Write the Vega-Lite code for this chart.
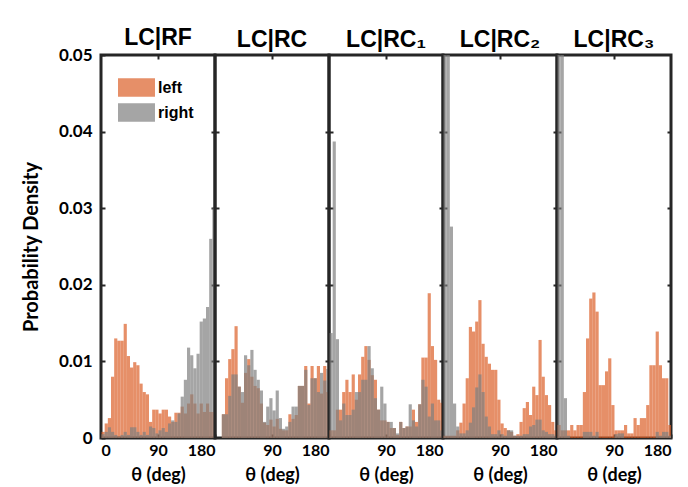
{
  "$schema": "https://vega.github.io/schema/vega-lite/v6.json",
  "padding": {"left": 19, "top": 25, "right": 10, "bottom": 2},
  "bounds": "flush",
  "spacing": 0,
  "datasets": {
    "h": [
      {"p":"RF","s":"left","b":0,"d":0.0008},{"p":"RF","s":"left","b":5,"d":0.0019},{"p":"RF","s":"left","b":10,"d":0.0026},{"p":"RF","s":"left","b":15,"d":0.008},{"p":"RF","s":"left","b":20,"d":0.013},{"p":"RF","s":"left","b":25,"d":0.0127},{"p":"RF","s":"left","b":30,"d":0.0127},{"p":"RF","s":"left","b":35,"d":0.0149},{"p":"RF","s":"left","b":40,"d":0.0107},{"p":"RF","s":"left","b":45,"d":0.0092},{"p":"RF","s":"left","b":50,"d":0.0099},{"p":"RF","s":"left","b":55,"d":0.0095},{"p":"RF","s":"left","b":60,"d":0.0071},{"p":"RF","s":"left","b":65,"d":0.006},{"p":"RF","s":"left","b":70,"d":0.0057},{"p":"RF","s":"left","b":75,"d":0.0021},{"p":"RF","s":"left","b":80,"d":0.0037},{"p":"RF","s":"left","b":85,"d":0.0037},{"p":"RF","s":"left","b":90,"d":0.0032},{"p":"RF","s":"left","b":95,"d":0.0037},{"p":"RF","s":"left","b":100,"d":0.0037},{"p":"RF","s":"left","b":105,"d":0.0028},{"p":"RF","s":"left","b":110,"d":0.0021},{"p":"RF","s":"left","b":115,"d":0.0033},{"p":"RF","s":"left","b":120,"d":0.0033},{"p":"RF","s":"left","b":125,"d":0.0041},{"p":"RF","s":"left","b":130,"d":0.0032},{"p":"RF","s":"left","b":135,"d":0.0045},{"p":"RF","s":"left","b":140,"d":0.0057},{"p":"RF","s":"left","b":145,"d":0.0045},{"p":"RF","s":"left","b":150,"d":0.0032},{"p":"RF","s":"left","b":155,"d":0.0045},{"p":"RF","s":"left","b":160,"d":0.0034},{"p":"RF","s":"left","b":165,"d":0.0045},{"p":"RF","s":"left","b":170,"d":0.0034},{"p":"RF","s":"left","b":175,"d":0.0034},
      {"p":"RF","s":"right","b":0,"d":0.0005},{"p":"RF","s":"right","b":5,"d":0.0008},{"p":"RF","s":"right","b":10,"d":0.0014},{"p":"RF","s":"right","b":15,"d":0.0008},{"p":"RF","s":"right","b":20,"d":0.0004},{"p":"RF","s":"right","b":25,"d":0.0002},{"p":"RF","s":"right","b":30,"d":0.0004},{"p":"RF","s":"right","b":35,"d":0.0008},{"p":"RF","s":"right","b":40,"d":0.0004},{"p":"RF","s":"right","b":45,"d":0.0014},{"p":"RF","s":"right","b":50,"d":0.0014},{"p":"RF","s":"right","b":55,"d":0.0008},{"p":"RF","s":"right","b":60,"d":0.0004},{"p":"RF","s":"right","b":65,"d":0.0008},{"p":"RF","s":"right","b":70,"d":0.0004},{"p":"RF","s":"right","b":75,"d":0.0015},{"p":"RF","s":"right","b":80,"d":0.0013},{"p":"RF","s":"right","b":85,"d":0.0006},{"p":"RF","s":"right","b":90,"d":0.001},{"p":"RF","s":"right","b":95,"d":0.0013},{"p":"RF","s":"right","b":100,"d":0.0008},{"p":"RF","s":"right","b":105,"d":0.0019},{"p":"RF","s":"right","b":110,"d":0.0023},{"p":"RF","s":"right","b":115,"d":0.0021},{"p":"RF","s":"right","b":120,"d":0.0032},{"p":"RF","s":"right","b":125,"d":0.0054},{"p":"RF","s":"right","b":130,"d":0.0076},{"p":"RF","s":"right","b":135,"d":0.0118},{"p":"RF","s":"right","b":140,"d":0.0108},{"p":"RF","s":"right","b":145,"d":0.0091},{"p":"RF","s":"right","b":150,"d":0.011},{"p":"RF","s":"right","b":155,"d":0.0152},{"p":"RF","s":"right","b":160,"d":0.0156},{"p":"RF","s":"right","b":165,"d":0.0171},{"p":"RF","s":"right","b":170,"d":0.026},{"p":"RF","s":"right","b":175,"d":0.03},
      {"p":"RC","s":"left","b":0,"d":0},{"p":"RC","s":"left","b":5,"d":0},{"p":"RC","s":"left","b":10,"d":0.0031},{"p":"RC","s":"left","b":15,"d":0.0078},{"p":"RC","s":"left","b":20,"d":0.0103},{"p":"RC","s":"left","b":25,"d":0.0116},{"p":"RC","s":"left","b":30,"d":0.0146},{"p":"RC","s":"left","b":35,"d":0.0067},{"p":"RC","s":"left","b":40,"d":0.0046},{"p":"RC","s":"left","b":45,"d":0.0085},{"p":"RC","s":"left","b":50,"d":0.0103},{"p":"RC","s":"left","b":55,"d":0.008},{"p":"RC","s":"left","b":60,"d":0.0068},{"p":"RC","s":"left","b":65,"d":0.0065},{"p":"RC","s":"left","b":70,"d":0.0045},{"p":"RC","s":"left","b":75,"d":0.002},{"p":"RC","s":"left","b":80,"d":0.0017},{"p":"RC","s":"left","b":85,"d":0.0024},{"p":"RC","s":"left","b":90,"d":0.0015},{"p":"RC","s":"left","b":95,"d":0.0025},{"p":"RC","s":"left","b":100,"d":0.0012},{"p":"RC","s":"left","b":105,"d":0.001},{"p":"RC","s":"left","b":110,"d":0.001},{"p":"RC","s":"left","b":115,"d":0.0031},{"p":"RC","s":"left","b":120,"d":0.0025},{"p":"RC","s":"left","b":125,"d":0.003},{"p":"RC","s":"left","b":130,"d":0.0068},{"p":"RC","s":"left","b":135,"d":0.0068},{"p":"RC","s":"left","b":140,"d":0.0094},{"p":"RC","s":"left","b":145,"d":0.0045},{"p":"RC","s":"left","b":150,"d":0.0094},{"p":"RC","s":"left","b":155,"d":0.0078},{"p":"RC","s":"left","b":160,"d":0.0094},{"p":"RC","s":"left","b":165,"d":0.0058},{"p":"RC","s":"left","b":170,"d":0.0094},{"p":"RC","s":"left","b":175,"d":0.006},
      {"p":"RC","s":"right","b":0,"d":0},{"p":"RC","s":"right","b":5,"d":0},{"p":"RC","s":"right","b":10,"d":0.0031},{"p":"RC","s":"right","b":15,"d":0.0031},{"p":"RC","s":"right","b":20,"d":0.0055},{"p":"RC","s":"right","b":25,"d":0.0083},{"p":"RC","s":"right","b":30,"d":0.0083},{"p":"RC","s":"right","b":35,"d":0.0067},{"p":"RC","s":"right","b":40,"d":0.006},{"p":"RC","s":"right","b":45,"d":0.0108},{"p":"RC","s":"right","b":50,"d":0.0095},{"p":"RC","s":"right","b":55,"d":0.0115},{"p":"RC","s":"right","b":60,"d":0.0089},{"p":"RC","s":"right","b":65,"d":0.0076},{"p":"RC","s":"right","b":70,"d":0.0062},{"p":"RC","s":"right","b":75,"d":0.0021},{"p":"RC","s":"right","b":80,"d":0.0041},{"p":"RC","s":"right","b":85,"d":0.0052},{"p":"RC","s":"right","b":90,"d":0.0036},{"p":"RC","s":"right","b":95,"d":0.0062},{"p":"RC","s":"right","b":100,"d":0.0026},{"p":"RC","s":"right","b":105,"d":0.0012},{"p":"RC","s":"right","b":110,"d":0.0015},{"p":"RC","s":"right","b":115,"d":0.0021},{"p":"RC","s":"right","b":120,"d":0.0041},{"p":"RC","s":"right","b":125,"d":0.0041},{"p":"RC","s":"right","b":130,"d":0.0068},{"p":"RC","s":"right","b":135,"d":0.0068},{"p":"RC","s":"right","b":140,"d":0.0089},{"p":"RC","s":"right","b":145,"d":0.0043},{"p":"RC","s":"right","b":150,"d":0.0078},{"p":"RC","s":"right","b":155,"d":0.0078},{"p":"RC","s":"right","b":160,"d":0.006},{"p":"RC","s":"right","b":165,"d":0.0085},{"p":"RC","s":"right","b":170,"d":0.0075},{"p":"RC","s":"right","b":175,"d":0.009},
      {"p":"RC1","s":"left","b":0,"d":0.001},{"p":"RC1","s":"left","b":5,"d":0.001},{"p":"RC1","s":"left","b":10,"d":0.0037},{"p":"RC1","s":"left","b":15,"d":0.0037},{"p":"RC1","s":"left","b":20,"d":0.006},{"p":"RC1","s":"left","b":25,"d":0.0076},{"p":"RC1","s":"left","b":30,"d":0.006},{"p":"RC1","s":"left","b":35,"d":0.0083},{"p":"RC1","s":"left","b":40,"d":0.005},{"p":"RC1","s":"left","b":45,"d":0.0083},{"p":"RC1","s":"left","b":50,"d":0.0106},{"p":"RC1","s":"left","b":55,"d":0.012},{"p":"RC1","s":"left","b":60,"d":0.0102},{"p":"RC1","s":"left","b":65,"d":0.0082},{"p":"RC1","s":"left","b":70,"d":0.0076},{"p":"RC1","s":"left","b":75,"d":0.0037},{"p":"RC1","s":"left","b":80,"d":0.0023},{"p":"RC1","s":"left","b":85,"d":0.0023},{"p":"RC1","s":"left","b":90,"d":0.0021},{"p":"RC1","s":"left","b":95,"d":0.0013},{"p":"RC1","s":"left","b":100,"d":0.0013},{"p":"RC1","s":"left","b":105,"d":0.0004},{"p":"RC1","s":"left","b":110,"d":0.0021},{"p":"RC1","s":"left","b":115,"d":0.0013},{"p":"RC1","s":"left","b":120,"d":0.0015},{"p":"RC1","s":"left","b":125,"d":0.0015},{"p":"RC1","s":"left","b":130,"d":0.0037},{"p":"RC1","s":"left","b":135,"d":0.0021},{"p":"RC1","s":"left","b":140,"d":0.0044},{"p":"RC1","s":"left","b":145,"d":0.0105},{"p":"RC1","s":"left","b":150,"d":0.0105},{"p":"RC1","s":"left","b":155,"d":0.0189},{"p":"RC1","s":"left","b":160,"d":0.012},{"p":"RC1","s":"left","b":165,"d":0.0102},{"p":"RC1","s":"left","b":170,"d":0.005},{"p":"RC1","s":"left","b":175,"d":0.0046},
      {"p":"RC1","s":"right","b":0,"d":0.0137},{"p":"RC1","s":"right","b":5,"d":0.0387},{"p":"RC1","s":"right","b":10,"d":0.0129},{"p":"RC1","s":"right","b":15,"d":0.0023},{"p":"RC1","s":"right","b":20,"d":0.0045},{"p":"RC1","s":"right","b":25,"d":0.003},{"p":"RC1","s":"right","b":30,"d":0.003},{"p":"RC1","s":"right","b":35,"d":0.0037},{"p":"RC1","s":"right","b":40,"d":0.006},{"p":"RC1","s":"right","b":45,"d":0.006},{"p":"RC1","s":"right","b":50,"d":0.0076},{"p":"RC1","s":"right","b":55,"d":0.0076},{"p":"RC1","s":"right","b":60,"d":0.012},{"p":"RC1","s":"right","b":65,"d":0.0091},{"p":"RC1","s":"right","b":70,"d":0.0052},{"p":"RC1","s":"right","b":75,"d":0.0037},{"p":"RC1","s":"right","b":80,"d":0.0067},{"p":"RC1","s":"right","b":85,"d":0.0045},{"p":"RC1","s":"right","b":90,"d":0.0021},{"p":"RC1","s":"right","b":95,"d":0.0021},{"p":"RC1","s":"right","b":100,"d":0.0013},{"p":"RC1","s":"right","b":105,"d":0.0006},{"p":"RC1","s":"right","b":110,"d":0.0021},{"p":"RC1","s":"right","b":115,"d":0.0013},{"p":"RC1","s":"right","b":120,"d":0.0015},{"p":"RC1","s":"right","b":125,"d":0.0044},{"p":"RC1","s":"right","b":130,"d":0.0023},{"p":"RC1","s":"right","b":135,"d":0.0015},{"p":"RC1","s":"right","b":140,"d":0.0044},{"p":"RC1","s":"right","b":145,"d":0.0076},{"p":"RC1","s":"right","b":150,"d":0.0067},{"p":"RC1","s":"right","b":155,"d":0.0028},{"p":"RC1","s":"right","b":160,"d":0.0045},{"p":"RC1","s":"right","b":165,"d":0.0023},{"p":"RC1","s":"right","b":170,"d":0.0023},{"p":"RC1","s":"right","b":175,"d":0.001},
      {"p":"RC2","s":"left","b":0,"d":0.0003},{"p":"RC2","s":"left","b":5,"d":0.0003},{"p":"RC2","s":"left","b":10,"d":0.0003},{"p":"RC2","s":"left","b":15,"d":0.0003},{"p":"RC2","s":"left","b":20,"d":0.001},{"p":"RC2","s":"left","b":25,"d":0.002},{"p":"RC2","s":"left","b":30,"d":0.0045},{"p":"RC2","s":"left","b":35,"d":0.0078},{"p":"RC2","s":"left","b":40,"d":0.0145},{"p":"RC2","s":"left","b":45,"d":0.0139},{"p":"RC2","s":"left","b":50,"d":0.0152},{"p":"RC2","s":"left","b":55,"d":0.018},{"p":"RC2","s":"left","b":60,"d":0.0123},{"p":"RC2","s":"left","b":65,"d":0.0106},{"p":"RC2","s":"left","b":70,"d":0.0097},{"p":"RC2","s":"left","b":75,"d":0.0089},{"p":"RC2","s":"left","b":80,"d":0.0089},{"p":"RC2","s":"left","b":85,"d":0.005},{"p":"RC2","s":"left","b":90,"d":0.0019},{"p":"RC2","s":"left","b":95,"d":0.0013},{"p":"RC2","s":"left","b":100,"d":0.001},{"p":"RC2","s":"left","b":105,"d":0.0008},{"p":"RC2","s":"left","b":110,"d":0.0003},{"p":"RC2","s":"left","b":115,"d":0.0005},{"p":"RC2","s":"left","b":120,"d":0.0021},{"p":"RC2","s":"left","b":125,"d":0.0039},{"p":"RC2","s":"left","b":130,"d":0.0047},{"p":"RC2","s":"left","b":135,"d":0.003},{"p":"RC2","s":"left","b":140,"d":0.0067},{"p":"RC2","s":"left","b":145,"d":0.0056},{"p":"RC2","s":"left","b":150,"d":0.0128},{"p":"RC2","s":"left","b":155,"d":0.008},{"p":"RC2","s":"left","b":160,"d":0.0056},{"p":"RC2","s":"left","b":165,"d":0.0043},{"p":"RC2","s":"left","b":170,"d":0.0021},{"p":"RC2","s":"left","b":175,"d":0.001},
      {"p":"RC2","s":"right","b":0,"d":0.065},{"p":"RC2","s":"right","b":5,"d":0.065},{"p":"RC2","s":"right","b":10,"d":0.0276},{"p":"RC2","s":"right","b":15,"d":0.0045},{"p":"RC2","s":"right","b":20,"d":0.0015},{"p":"RC2","s":"right","b":25,"d":0.0006},{"p":"RC2","s":"right","b":30,"d":0.0006},{"p":"RC2","s":"right","b":35,"d":0.001},{"p":"RC2","s":"right","b":40,"d":0.002},{"p":"RC2","s":"right","b":45,"d":0.004},{"p":"RC2","s":"right","b":50,"d":0.0066},{"p":"RC2","s":"right","b":55,"d":0.0083},{"p":"RC2","s":"right","b":60,"d":0.006},{"p":"RC2","s":"right","b":65,"d":0.0028},{"p":"RC2","s":"right","b":70,"d":0.0015},{"p":"RC2","s":"right","b":75,"d":0.0005},{"p":"RC2","s":"right","b":80,"d":0.0005},{"p":"RC2","s":"right","b":85,"d":0.001},{"p":"RC2","s":"right","b":90,"d":0.0005},{"p":"RC2","s":"right","b":95,"d":0.0003},{"p":"RC2","s":"right","b":100,"d":0.001},{"p":"RC2","s":"right","b":105,"d":0.001},{"p":"RC2","s":"right","b":110,"d":0.0003},{"p":"RC2","s":"right","b":115,"d":0.0003},{"p":"RC2","s":"right","b":120,"d":0.0003},{"p":"RC2","s":"right","b":125,"d":0.0005},{"p":"RC2","s":"right","b":130,"d":0.0005},{"p":"RC2","s":"right","b":135,"d":0.0015},{"p":"RC2","s":"right","b":140,"d":0.0017},{"p":"RC2","s":"right","b":145,"d":0.0024},{"p":"RC2","s":"right","b":150,"d":0.0024},{"p":"RC2","s":"right","b":155,"d":0.001},{"p":"RC2","s":"right","b":160,"d":0.0008},{"p":"RC2","s":"right","b":165,"d":0.0005},{"p":"RC2","s":"right","b":170,"d":0.0005},{"p":"RC2","s":"right","b":175,"d":0.0003},
      {"p":"RC3","s":"left","b":0,"d":0.0017},{"p":"RC3","s":"left","b":5,"d":0.001},{"p":"RC3","s":"left","b":10,"d":0.001},{"p":"RC3","s":"left","b":15,"d":0.001},{"p":"RC3","s":"left","b":20,"d":0.0017},{"p":"RC3","s":"left","b":25,"d":0.001},{"p":"RC3","s":"left","b":30,"d":0.0017},{"p":"RC3","s":"left","b":35,"d":0.0017},{"p":"RC3","s":"left","b":40,"d":0.006},{"p":"RC3","s":"left","b":45,"d":0.013},{"p":"RC3","s":"left","b":50,"d":0.0182},{"p":"RC3","s":"left","b":55,"d":0.019},{"p":"RC3","s":"left","b":60,"d":0.0165},{"p":"RC3","s":"left","b":65,"d":0.0069},{"p":"RC3","s":"left","b":70,"d":0.0069},{"p":"RC3","s":"left","b":75,"d":0.0087},{"p":"RC3","s":"left","b":80,"d":0.0104},{"p":"RC3","s":"left","b":85,"d":0.0043},{"p":"RC3","s":"left","b":90,"d":0.001},{"p":"RC3","s":"left","b":95,"d":0.001},{"p":"RC3","s":"left","b":100,"d":0.001},{"p":"RC3","s":"left","b":105,"d":0.0017},{"p":"RC3","s":"left","b":110,"d":0.0006},{"p":"RC3","s":"left","b":115,"d":0.0006},{"p":"RC3","s":"left","b":120,"d":0.0026},{"p":"RC3","s":"left","b":125,"d":0.0017},{"p":"RC3","s":"left","b":130,"d":0.0026},{"p":"RC3","s":"left","b":135,"d":0.0026},{"p":"RC3","s":"left","b":140,"d":0.0043},{"p":"RC3","s":"left","b":145,"d":0.0095},{"p":"RC3","s":"left","b":150,"d":0.0095},{"p":"RC3","s":"left","b":155,"d":0.0139},{"p":"RC3","s":"left","b":160,"d":0.0095},{"p":"RC3","s":"left","b":165,"d":0.0078},{"p":"RC3","s":"left","b":170,"d":0.0078},{"p":"RC3","s":"left","b":175,"d":0.0017},
      {"p":"RC3","s":"right","b":0,"d":0.065},{"p":"RC3","s":"right","b":5,"d":0.065},{"p":"RC3","s":"right","b":10,"d":0.0052},{"p":"RC3","s":"right","b":15,"d":0.0003},{"p":"RC3","s":"right","b":20,"d":0},{"p":"RC3","s":"right","b":25,"d":0},{"p":"RC3","s":"right","b":30,"d":0},{"p":"RC3","s":"right","b":35,"d":0},{"p":"RC3","s":"right","b":40,"d":0.0008},{"p":"RC3","s":"right","b":45,"d":0.0008},{"p":"RC3","s":"right","b":50,"d":0.0008},{"p":"RC3","s":"right","b":55,"d":0.0003},{"p":"RC3","s":"right","b":60,"d":0.0008},{"p":"RC3","s":"right","b":65,"d":0},{"p":"RC3","s":"right","b":70,"d":0},{"p":"RC3","s":"right","b":75,"d":0},{"p":"RC3","s":"right","b":80,"d":0},{"p":"RC3","s":"right","b":85,"d":0},{"p":"RC3","s":"right","b":90,"d":0.0005},{"p":"RC3","s":"right","b":95,"d":0.0006},{"p":"RC3","s":"right","b":100,"d":0.0006},{"p":"RC3","s":"right","b":105,"d":0},{"p":"RC3","s":"right","b":110,"d":0},{"p":"RC3","s":"right","b":115,"d":0},{"p":"RC3","s":"right","b":120,"d":0},{"p":"RC3","s":"right","b":125,"d":0},{"p":"RC3","s":"right","b":130,"d":0},{"p":"RC3","s":"right","b":135,"d":0},{"p":"RC3","s":"right","b":140,"d":0},{"p":"RC3","s":"right","b":145,"d":0},{"p":"RC3","s":"right","b":150,"d":0},{"p":"RC3","s":"right","b":155,"d":0.0008},{"p":"RC3","s":"right","b":160,"d":0.0003},{"p":"RC3","s":"right","b":165,"d":0.0008},{"p":"RC3","s":"right","b":170,"d":0.0008},{"p":"RC3","s":"right","b":175,"d":0.0003}
    ]
  },
  "data": {"name": "h"},
  "config": {
    "view": {"stroke": "#262626", "strokeWidth": 3},
    "axis": {"domain": false, "grid": false, "tickColor": "#262626", "tickWidth": 2, "tickSize": -4, "labelFont": "Lato", "labelFontWeight": "bold", "labelFontSize": 16, "labelColor": "#000000", "titleFont": "Lato", "titleFontWeight": "bold", "titleColor": "#000000"},
    "axisX": {"labelPadding": 8, "titleFontSize": 18, "titlePadding": 8},
    "title": {"font": "Liberation Sans", "fontSize": 23, "fontWeight": "bold", "color": "#000000", "offset": 2},
    "legend": {"labelFont": "Liberation Sans", "labelFontWeight": "bold", "labelFontSize": 16, "labelColor": "#000000", "symbolOpacity": 0.7, "symbolStrokeWidth": 0, "padding": 0}
  },
  "hconcat": [
    {
      "width": 114, "height": 383,
      "title": {"text": "LC|RF", "offset": -4},
      "transform": [{"filter": "datum.p == 'RF'"}],
      "layer": [
        {"transform": [{"filter": "datum.s == 'left'"}], "mark": {"type": "bar", "binSpacing": 0, "opacity": 0.7, "clip": true},
         "encoding": {
           "x": {"field": "b", "type": "quantitative", "bin": {"binned": true, "step": 5}, "scale": {"domain": [0, 180]}, "axis": {"orient": "bottom", "values": [0, 90, 180], "title": "θ (deg)"}},
           "y": {"field": "d", "type": "quantitative", "scale": {"domain": [0, 0.05]}, "axis": {"orient": "left", "values": [0, 0.01, 0.02, 0.03, 0.04, 0.05], "format": ".2~f", "labelFontSize": 17, "labelPadding": 13, "title": "Probability Density", "titleFontSize": 20, "titlePadding": 17}},
           "color": {"field": "s", "type": "nominal", "scale": {"domain": ["left", "right"], "range": ["#DC5F28", "#7F7F7F"]}, "legend": {"orient": "none", "legendX": 26, "legendY": 23, "title": null, "symbolType": "M-2,-1H2V1H-2Z", "symbolSize": 342, "labelOffset": 12, "rowPadding": 6}}
         }},
        {"transform": [{"filter": "datum.s == 'right'"}], "mark": {"type": "bar", "binSpacing": 0, "opacity": 0.7, "clip": true},
         "encoding": {
           "x": {"field": "b", "type": "quantitative", "bin": {"binned": true, "step": 5}, "scale": {"domain": [0, 180]}, "axis": {"orient": "top", "values": [90], "labels": false, "title": null}},
           "y": {"field": "d", "type": "quantitative", "scale": {"domain": [0, 0.05]}, "axis": {"orient": "right", "values": [0.01, 0.02, 0.03, 0.04], "labels": false, "title": null}},
           "color": {"field": "s", "type": "nominal", "scale": {"domain": ["left", "right"], "range": ["#DC5F28", "#7F7F7F"]}, "legend": {"orient": "none", "legendX": 26, "legendY": 23, "title": null, "symbolType": "M-2,-1H2V1H-2Z", "symbolSize": 342, "labelOffset": 12, "rowPadding": 6}}
         }}
      ],
      "resolve": {"axis": {"x": "independent", "y": "independent"}}
    },
    {
      "width": 114, "height": 383,
      "title": {"text": "LC|RC", "offset": 2},
      "transform": [{"filter": "datum.p == 'RC'"}],
      "layer": [
        {"transform": [{"filter": "datum.s == 'left'"}], "mark": {"type": "bar", "binSpacing": 0, "opacity": 0.7, "clip": true},
         "encoding": {
           "x": {"field": "b", "type": "quantitative", "bin": {"binned": true, "step": 5}, "scale": {"domain": [0, 180]}, "axis": {"orient": "bottom", "values": [90, 180], "title": "θ (deg)"}},
           "y": {"field": "d", "type": "quantitative", "scale": {"domain": [0, 0.05]}, "axis": {"orient": "left", "values": [0.01, 0.02, 0.03, 0.04], "labels": false, "title": null}},
           "color": {"field": "s", "type": "nominal", "scale": {"domain": ["left", "right"], "range": ["#DC5F28", "#7F7F7F"]}, "legend": {"orient": "none", "legendX": 26, "legendY": 23, "title": null, "symbolType": "M-2,-1H2V1H-2Z", "symbolSize": 342, "labelOffset": 12, "rowPadding": 6}}
         }},
        {"transform": [{"filter": "datum.s == 'right'"}], "mark": {"type": "bar", "binSpacing": 0, "opacity": 0.7, "clip": true},
         "encoding": {
           "x": {"field": "b", "type": "quantitative", "bin": {"binned": true, "step": 5}, "scale": {"domain": [0, 180]}, "axis": {"orient": "top", "values": [90], "labels": false, "title": null}},
           "y": {"field": "d", "type": "quantitative", "scale": {"domain": [0, 0.05]}, "axis": {"orient": "right", "values": [0.01, 0.02, 0.03, 0.04], "labels": false, "title": null}},
           "color": {"field": "s", "type": "nominal", "scale": {"domain": ["left", "right"], "range": ["#DC5F28", "#7F7F7F"]}, "legend": {"orient": "none", "legendX": 26, "legendY": 23, "title": null, "symbolType": "M-2,-1H2V1H-2Z", "symbolSize": 342, "labelOffset": 12, "rowPadding": 6}}
         }}
      ],
      "resolve": {"axis": {"x": "independent", "y": "independent"}}
    },
    {
      "width": 114, "height": 383,
      "title": {"text": "LC|RC₁", "offset": 2},
      "transform": [{"filter": "datum.p == 'RC1'"}],
      "layer": [
        {"transform": [{"filter": "datum.s == 'left'"}], "mark": {"type": "bar", "binSpacing": 0, "opacity": 0.7, "clip": true},
         "encoding": {
           "x": {"field": "b", "type": "quantitative", "bin": {"binned": true, "step": 5}, "scale": {"domain": [0, 180]}, "axis": {"orient": "bottom", "values": [90, 180], "title": "θ (deg)"}},
           "y": {"field": "d", "type": "quantitative", "scale": {"domain": [0, 0.05]}, "axis": {"orient": "left", "values": [0.01, 0.02, 0.03, 0.04], "labels": false, "title": null}},
           "color": {"field": "s", "type": "nominal", "scale": {"domain": ["left", "right"], "range": ["#DC5F28", "#7F7F7F"]}, "legend": {"orient": "none", "legendX": 26, "legendY": 23, "title": null, "symbolType": "M-2,-1H2V1H-2Z", "symbolSize": 342, "labelOffset": 12, "rowPadding": 6}}
         }},
        {"transform": [{"filter": "datum.s == 'right'"}], "mark": {"type": "bar", "binSpacing": 0, "opacity": 0.7, "clip": true},
         "encoding": {
           "x": {"field": "b", "type": "quantitative", "bin": {"binned": true, "step": 5}, "scale": {"domain": [0, 180]}, "axis": {"orient": "top", "values": [90], "labels": false, "title": null}},
           "y": {"field": "d", "type": "quantitative", "scale": {"domain": [0, 0.05]}, "axis": {"orient": "right", "values": [0.01, 0.02, 0.03, 0.04], "labels": false, "title": null}},
           "color": {"field": "s", "type": "nominal", "scale": {"domain": ["left", "right"], "range": ["#DC5F28", "#7F7F7F"]}, "legend": {"orient": "none", "legendX": 26, "legendY": 23, "title": null, "symbolType": "M-2,-1H2V1H-2Z", "symbolSize": 342, "labelOffset": 12, "rowPadding": 6}}
         }}
      ],
      "resolve": {"axis": {"x": "independent", "y": "independent"}}
    },
    {
      "width": 114, "height": 383,
      "title": {"text": "LC|RC₂", "offset": 2},
      "transform": [{"filter": "datum.p == 'RC2'"}],
      "layer": [
        {"transform": [{"filter": "datum.s == 'left'"}], "mark": {"type": "bar", "binSpacing": 0, "opacity": 0.7, "clip": true},
         "encoding": {
           "x": {"field": "b", "type": "quantitative", "bin": {"binned": true, "step": 5}, "scale": {"domain": [0, 180]}, "axis": {"orient": "bottom", "values": [90, 180], "title": "θ (deg)"}},
           "y": {"field": "d", "type": "quantitative", "scale": {"domain": [0, 0.05]}, "axis": {"orient": "left", "values": [0.01, 0.02, 0.03, 0.04], "labels": false, "title": null}},
           "color": {"field": "s", "type": "nominal", "scale": {"domain": ["left", "right"], "range": ["#DC5F28", "#7F7F7F"]}, "legend": {"orient": "none", "legendX": 26, "legendY": 23, "title": null, "symbolType": "M-2,-1H2V1H-2Z", "symbolSize": 342, "labelOffset": 12, "rowPadding": 6}}
         }},
        {"transform": [{"filter": "datum.s == 'right'"}], "mark": {"type": "bar", "binSpacing": 0, "opacity": 0.7, "clip": true},
         "encoding": {
           "x": {"field": "b", "type": "quantitative", "bin": {"binned": true, "step": 5}, "scale": {"domain": [0, 180]}, "axis": {"orient": "top", "values": [90], "labels": false, "title": null}},
           "y": {"field": "d", "type": "quantitative", "scale": {"domain": [0, 0.05]}, "axis": {"orient": "right", "values": [0.01, 0.02, 0.03, 0.04], "labels": false, "title": null}},
           "color": {"field": "s", "type": "nominal", "scale": {"domain": ["left", "right"], "range": ["#DC5F28", "#7F7F7F"]}, "legend": {"orient": "none", "legendX": 26, "legendY": 23, "title": null, "symbolType": "M-2,-1H2V1H-2Z", "symbolSize": 342, "labelOffset": 12, "rowPadding": 6}}
         }}
      ],
      "resolve": {"axis": {"x": "independent", "y": "independent"}}
    },
    {
      "width": 114, "height": 383,
      "title": {"text": "LC|RC₃", "offset": 2},
      "transform": [{"filter": "datum.p == 'RC3'"}],
      "layer": [
        {"transform": [{"filter": "datum.s == 'left'"}], "mark": {"type": "bar", "binSpacing": 0, "opacity": 0.7, "clip": true},
         "encoding": {
           "x": {"field": "b", "type": "quantitative", "bin": {"binned": true, "step": 5}, "scale": {"domain": [0, 180]}, "axis": {"orient": "bottom", "values": [90, 180], "title": "θ (deg)"}},
           "y": {"field": "d", "type": "quantitative", "scale": {"domain": [0, 0.05]}, "axis": {"orient": "left", "values": [0.01, 0.02, 0.03, 0.04], "labels": false, "title": null}},
           "color": {"field": "s", "type": "nominal", "scale": {"domain": ["left", "right"], "range": ["#DC5F28", "#7F7F7F"]}, "legend": {"orient": "none", "legendX": 26, "legendY": 23, "title": null, "symbolType": "M-2,-1H2V1H-2Z", "symbolSize": 342, "labelOffset": 12, "rowPadding": 6}}
         }},
        {"transform": [{"filter": "datum.s == 'right'"}], "mark": {"type": "bar", "binSpacing": 0, "opacity": 0.7, "clip": true},
         "encoding": {
           "x": {"field": "b", "type": "quantitative", "bin": {"binned": true, "step": 5}, "scale": {"domain": [0, 180]}, "axis": {"orient": "top", "values": [90], "labels": false, "title": null}},
           "y": {"field": "d", "type": "quantitative", "scale": {"domain": [0, 0.05]}, "axis": {"orient": "right", "values": [0.01, 0.02, 0.03, 0.04], "labels": false, "title": null}},
           "color": {"field": "s", "type": "nominal", "scale": {"domain": ["left", "right"], "range": ["#DC5F28", "#7F7F7F"]}, "legend": {"orient": "none", "legendX": 26, "legendY": 23, "title": null, "symbolType": "M-2,-1H2V1H-2Z", "symbolSize": 342, "labelOffset": 12, "rowPadding": 6}}
         }}
      ],
      "resolve": {"axis": {"x": "independent", "y": "independent"}}
    }
  ]
}
